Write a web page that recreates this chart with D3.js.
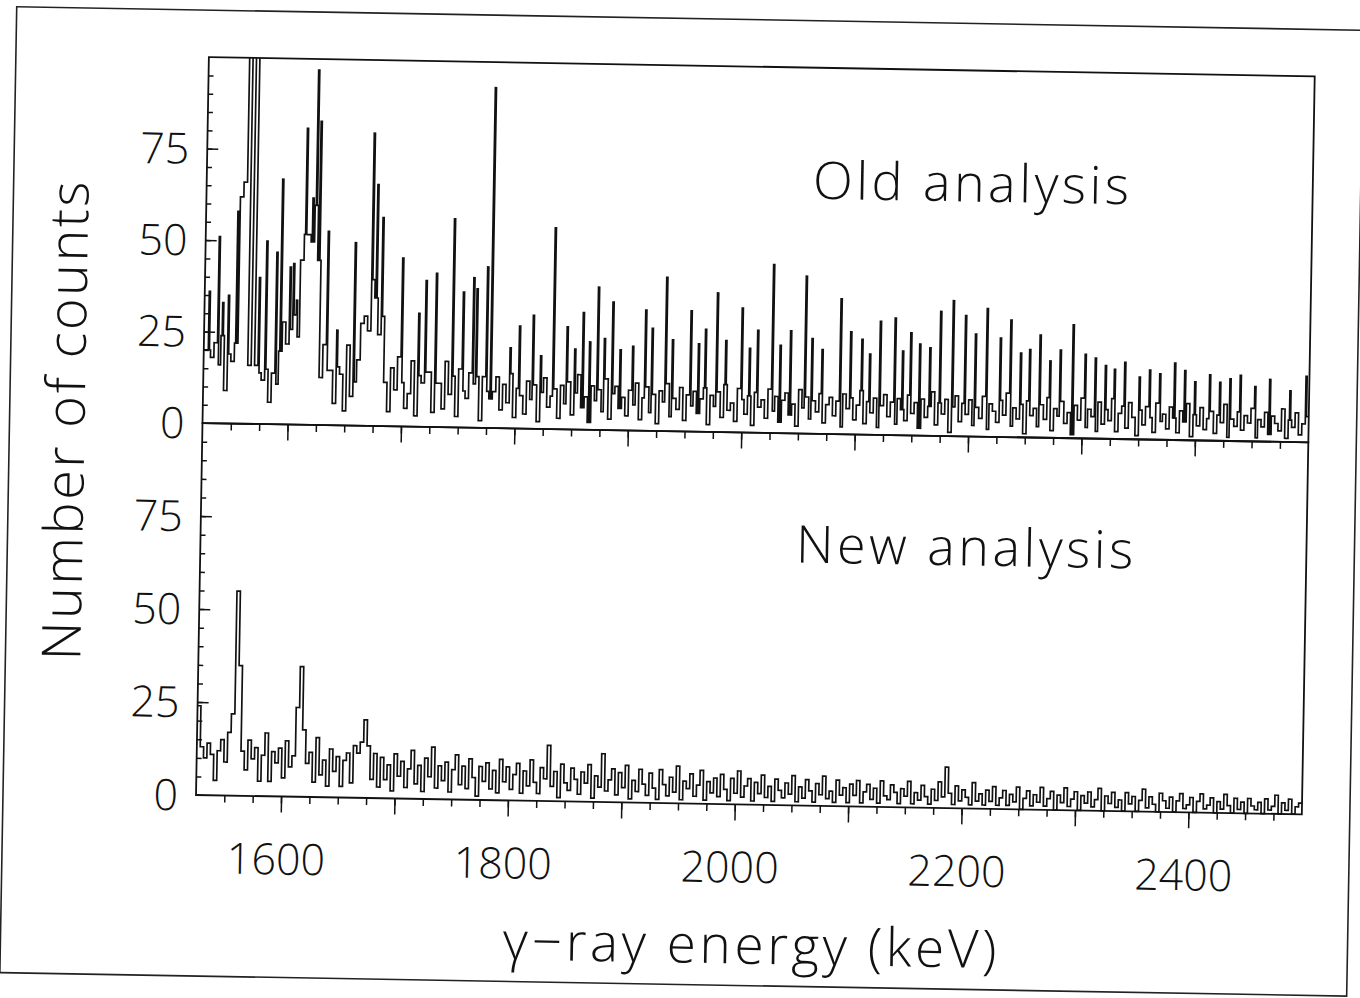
<!DOCTYPE html>
<html>
<head>
<meta charset="utf-8">
<script src="https://cdn.jsdelivr.net/npm/d3@7/dist/d3.min.js"></script>
<style>
  body { margin: 0; background: #fff; }
  svg text { font-family: "Open Sans", Lato, sans-serif; font-weight: 300; fill: #111; }
</style>
</head>
<body>
<svg width="1360" height="998"></svg>
<script>
// background counts in 3 keV bins from 1525 keV, narrow lines listed apart (1 keV wide)
const binStart = 1525;
const binWidth = 3;

// "Old analysis" background (values above 100 run off the frame)
const oldCounts = [
  20, 20, 18, 22, 16, 24, 9, 19, 17, 22, 62, 66, 140, 16, 125, 16, 14, 12, 15, 6,
  14, 11, 20, 28, 22, 26, 30, 24, 45, 52, 52, 50, 60, 45, 13, 22, 15, 15, 6, 16,
  14, 4, 22, 8, 12, 18, 28, 30, 26, 40, 35, 25, 30, 12, 4, 16, 10, 19, 12, 5,
  9, 18, 3, 14, 12, 15, 15, 4, 12, 12, 5, 18, 9, 14, 3, 16, 10, 8, 15, 12,
  14, 2, 14, 10, 8,
  10, 14, 5, 12, 7, 15, 3, 11, 9, 4, 13, 8, 12, 2, 10, 14, 6, 9, 11, 3,
  12, 7, 13, 4, 10, 15, 6, 9, 2, 12, 8, 11, 5, 14, 3, 10, 12, 6, 9, 4,
  11, 7, 13, 3, 9, 12, 5, 10, 2, 11, 8, 13, 4, 9, 6, 12, 3, 10, 7, 11,
  5, 9, 12, 2, 10, 7, 11, 4, 13, 6, 8, 3, 12, 9, 5, 10, 2, 11, 7, 9,
  4, 12, 6, 10, 3, 9, 11, 5, 8, 2, 12, 7, 10, 4, 9, 6, 11, 3, 8, 10,
  5, 9, 2, 11, 7, 10, 4, 8, 12, 3, 9, 6, 10, 2, 8, 11, 5, 9, 3, 10,
  7, 4, 11, 6, 9, 2, 10, 5, 8, 12, 3, 9, 6, 10, 1, 8, 11, 4, 9, 6,
  10, 3, 8, 5, 11, 2, 9, 7, 4, 10, 6, 12, 3, 8, 5, 9, 1, 10, 6, 8,
  3, 9, 5, 11, 2, 8, 6, 10, 4, 7, 1, 9, 5, 11, 3, 8, 6, 2, 10, 4,
  8, 5, 11, 2, 7, 9, 3, 10, 6, 1, 8, 4, 9, 6, 2, 10, 5, 7, 3, 9,
  6, 2, 8, 5, 10, 1, 7, 4, 9, 3, 6, 8, 2, 7, 5, 10, 1, 6, 4, 8,
  3, 7, 5, 9, 1, 6, 4, 8, 2, 7, 5, 3, 9, 1, 6, 4, 8, 2, 5, 7
];

// "Old analysis" narrow lines: [keV, counts]
const oldPeaks = [
  [1529, 36], [1537, 51], [1541, 33], [1546, 35], [1553, 58], [1573, 40], [1579, 50],
  [1588, 47], [1592, 67], [1600, 43], [1603, 44], [1606, 34], [1613, 81], [1619, 62],
  [1622, 97], [1625, 83], [1633, 53], [1642, 26], [1657, 50], [1672, 80], [1676, 66],
  [1681, 57], [1699, 46], [1714, 31], [1720, 40], [1729, 42], [1744, 57], [1753, 37],
  [1762, 41], [1765, 38], [1774, 44], [1778, 93],
  [1795, 22], [1803, 28], [1815, 31], [1822, 20], [1833, 55], [1845, 28], [1852, 22],
  [1859, 32], [1865, 24], [1872, 39], [1878, 25], [1885, 35], [1892, 22], [1903, 23],
  [1914, 33], [1920, 28], [1932, 42], [1938, 25], [1954, 33], [1961, 24], [1967, 28],
  [1977, 38], [1985, 25], [1999, 34], [2006, 23], [2013, 28], [2026, 46], [2033, 24],
  [2042, 28], [2055, 43], [2061, 26], [2070, 23], [2086, 37], [2095, 28], [2105, 26],
  [2112, 22], [2121, 31], [2134, 32], [2141, 23], [2148, 28], [2156, 25], [2165, 24],
  [2174, 34], [2185, 37], [2196, 33], [2205, 28], [2215, 35], [2227, 27], [2236, 32],
  [2245, 23], [2253, 24], [2262, 28], [2271, 21], [2280, 24], [2291, 31], [2302, 23],
  [2311, 22], [2320, 20], [2328, 19], [2337, 21], [2350, 17], [2359, 19], [2368, 18],
  [2381, 21], [2390, 19], [2399, 16], [2412, 18], [2421, 16], [2430, 17], [2439, 18],
  [2452, 15], [2465, 17], [2483, 14], [2497, 18]
];

// "New analysis" background
const newCounts = [
  24, 13, 10, 14, 11, 4, 12, 15, 9, 17, 22, 55, 35, 12, 7, 15, 10, 13, 4, 11,
  17, 4, 12, 9, 13, 5, 15, 8, 11, 24, 35, 18, 9, 12, 4, 16, 6, 10, 3, 13,
  7, 11, 3, 10, 12, 4, 14, 12, 15, 21, 14, 5, 12,
  3, 11, 5, 9, 2, 12, 6, 10, 3, 8, 13, 4, 9, 2, 11, 6, 14, 3, 9, 5,
  10, 2, 8, 12, 4, 9, 3, 11, 6, 1, 9, 5, 10, 3, 8, 2, 11, 5, 9, 3,
  7, 10, 2, 8, 4, 11, 5, 2, 9, 6, 15, 4, 8, 1, 10, 5, 3, 9, 6, 2,
  8, 5, 10, 1, 7, 4, 13, 3, 6, 9, 2, 8, 4, 10, 1, 6, 3, 9, 5, 2,
  8, 4, 1, 9, 5, 2, 7, 3, 10, 1, 6, 4, 8, 2, 5, 9, 1, 6, 3, 7,
  2, 8, 4, 1, 7, 3, 9, 2, 5, 7, 1, 6, 3, 8, 2, 5, 1, 7, 4, 2,
  6, 3, 8, 1, 5, 2, 7, 4, 1, 6, 3, 8, 2, 4, 1, 7, 3, 5, 1, 6,
  3, 7, 1, 4, 6, 2, 5, 1, 7, 3, 2, 6, 4, 1, 5, 3, 7, 1, 4, 2,
  6, 3, 1, 5, 2, 7, 3, 11, 4, 1, 6, 2, 5, 3, 1, 7, 2, 4, 1, 5,
  2, 6, 1, 3, 5, 1, 4, 2, 6, 0, 3, 5, 1, 4, 2, 6, 1, 3, 5, 0,
  4, 2, 6, 1, 3, 5, 0, 4, 2, 5, 1, 3, 6, 0, 4, 2, 5, 1, 3, 0,
  5, 2, 4, 0, 3, 6, 1, 4, 2, 0, 5, 3, 1, 4, 0, 3, 5, 1, 2, 4,
  0, 3, 5, 1, 2, 4, 0, 3, 1, 5, 2, 0, 4, 1, 3, 0, 4, 2, 1, 3,
  0, 4, 1, 2, 5, 0, 3, 1, 4, 0, 2, 3
];
const newPeaks = [];

const energyDomain = [1525, 2500];
const countDomain = [0, 100];
const xMinorTicks = d3.range(1550, 2500, 25);
const xMajorTicks = d3.range(1600, 2500, 100);
const xTickLabels = [1600, 1800, 2000, 2200, 2400];
const yMinorTicks = d3.range(5, 100, 5);
const yMajorTicks = [25, 50, 75];
const yTickLabels = [0, 25, 50, 75];
const panelLabels = ["Old analysis", "New analysis"];

var svg = d3.select("svg");

// the scanned page sits a little skewed
var page = svg.append("g").attr("transform", "rotate(1.0,196,795)");

page.append("rect")
  .attr("x", 3).attr("y", 10)
  .attr("width", 1347).attr("height", 966)
  .attr("fill", "none").attr("stroke", "#222").attr("stroke-width", 1.6);

const x = d3.scaleLinear().domain(energyDomain).range([196, 1302]);
const yTop = d3.scaleLinear().domain(countDomain).range([423, 57]);
const yBot = d3.scaleLinear().domain(countDomain).range([795, 423]);

// 1 keV steps: background bin value unless a narrow line sits there
function toPoints(counts, peaks) {
  var lines = new Map(peaks);
  var pts = [];
  for (var e = energyDomain[0]; e < energyDomain[1]; e++) {
    var c = lines.has(e) ? lines.get(e) : counts[Math.floor((e - binStart) / binWidth)];
    pts.push([e, c]);
  }
  pts.push([energyDomain[1], pts[pts.length - 1][1]]);
  return pts;
}

page.append("clipPath").attr("id", "clipTop")
  .append("rect").attr("x", 196).attr("y", 57).attr("width", 1106).attr("height", 372);
page.append("clipPath").attr("id", "clipBot")
  .append("rect").attr("x", 196).attr("y", 423).attr("width", 1106).attr("height", 376);

function drawSpectrum(counts, peaks, y, clip) {
  const line = d3.line()
    .x((d) => x(d[0]))
    .y((d) => y(Math.min(d[1], 104)))
    .curve(d3.curveStepAfter);
  page.append("path")
    .datum(toPoints(counts, peaks))
    .attr("clip-path", "url(#" + clip + ")")
    .attr("fill", "none")
    .attr("stroke", "#111")
    .attr("stroke-width", 1.7)
    .attr("d", line);
}

drawSpectrum(oldCounts, oldPeaks, yTop, "clipTop");
drawSpectrum(newCounts, newPeaks, yBot, "clipBot");

// frames
[yTop, yBot].forEach(function (y) {
  page.append("rect")
    .attr("x", x.range()[0]).attr("y", y.range()[1])
    .attr("width", x.range()[1] - x.range()[0])
    .attr("height", y.range()[0] - y.range()[1])
    .attr("fill", "none").attr("stroke", "#111").attr("stroke-width", 1.8);
});

function styleAxis(g) {
  g.select(".domain").remove();
  g.selectAll("line").attr("stroke", "#111").attr("stroke-width", 1.5);
}

// x ticks below each panel's zero line
[yTop, yBot].forEach(function (y) {
  page.append("g")
    .attr("transform", "translate(0," + y(0) + ")")
    .call(d3.axisBottom(x).tickValues(xMinorTicks).tickSize(7).tickFormat(""))
    .call(styleAxis);
  page.append("g")
    .attr("transform", "translate(0," + y(0) + ")")
    .call(d3.axisBottom(x).tickValues(xMajorTicks).tickSize(16).tickFormat(""))
    .call(styleAxis);
});

// y ticks, pointing inward
[yTop, yBot].forEach(function (y) {
  page.append("g")
    .attr("transform", "translate(" + x.range()[0] + ",0)")
    .call(d3.axisLeft(y).tickValues(yMinorTicks).tickSize(-5).tickFormat(""))
    .call(styleAxis);
  page.append("g")
    .attr("transform", "translate(" + x.range()[0] + ",0)")
    .call(d3.axisLeft(y).tickValues(yMajorTicks).tickSize(-11).tickFormat(""))
    .call(styleAxis);
  page.append("g")
    .selectAll("text")
    .data(yTickLabels)
    .join("text")
    .attr("x", x.range()[0] - 18)
    .attr("y", (d) => y(d))
    .attr("dy", "0.36em")
    .attr("text-anchor", "end")
    .attr("font-size", 43)
    .text((d) => d);
});

page.append("g")
  .selectAll("text")
  .data(xTickLabels)
  .join("text")
  .attr("x", (d) => x(d) - 4)
  .attr("y", yBot(0) + 78)
  .attr("text-anchor", "middle")
  .attr("font-size", 43)
  .text((d) => d);

// panel labels
page.append("text")
  .attr("x", 962).attr("y", 188)
  .attr("text-anchor", "middle").attr("font-size", 52)
  .attr("letter-spacing", 3.5)
  .text(panelLabels[0]);
page.append("text")
  .attr("x", 962).attr("y", 552)
  .attr("text-anchor", "middle").attr("font-size", 52)
  .attr("letter-spacing", 3.5)
  .text(panelLabels[1]);

// axis titles
page.append("text")
  .attr("transform", "translate(78,422) rotate(-90)")
  .attr("text-anchor", "middle").attr("font-size", 54)
  .attr("letter-spacing", 2.5)
  .text("Number of counts");
page.append("text")
  .attr("x", 754).attr("y", 954)
  .attr("text-anchor", "middle").attr("font-size", 53)
  .attr("letter-spacing", 3.6)
  .text("\u03b3\u2212ray energy (keV)");
</script>
</body>
</html>
